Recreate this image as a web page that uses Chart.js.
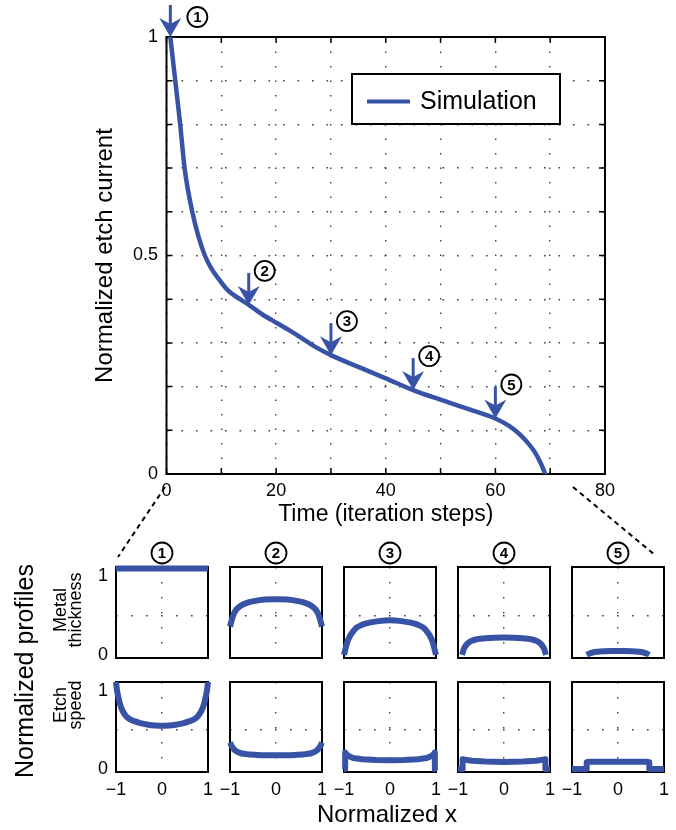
<!DOCTYPE html>
<html><head><meta charset="utf-8">
<script src="https://cdn.jsdelivr.net/npm/chart.js@4.4.1/dist/chart.umd.min.js"></script>
<style>
html,body{margin:0;padding:0;background:#fff;}
#wrap{position:relative;width:676px;height:830px;overflow:hidden;background:#fff;}
canvas{position:absolute;}
</style></head><body>
<div id="wrap"><canvas id="main" style="left:0;top:0"></canvas></div>
<script>
// ================= DATA =================
const seriesName = 'Simulation';
const timeSteps   = [0.7, 1.6, 2.5, 3.3, 4.7, 5.8, 7.0, 8.2, 9.3, 11.2, 13.4, 15, 17.5, 20.2, 22.5, 24.4, 27, 30, 35, 40, 45, 50, 55, 60, 62.5, 64.5, 66, 67.2, 68.3, 69.1];
const etchCurrent = [1.0, 0.9, 0.8, 0.7, 0.6, 0.545, 0.5, 0.47, 0.45, 0.42, 0.4, 0.387, 0.365, 0.345, 0.328, 0.313, 0.292, 0.272, 0.245, 0.219, 0.192, 0.17, 0.149, 0.127, 0.11, 0.09, 0.07, 0.05, 0.024, 0];
const markerSteps = [0.7, 15, 30, 45, 60];
const markerLabels = ['1', '2', '3', '4', '5'];
const timeTickLabels = ['0', '20', '40', '60', '80'];
const currentTickLabels = ['0', '0.5', '1'];
const profileXTicks = [-1, 0, 1];
const profileXTickLabels = ['\u22121', '0', '1'];
const profileYTicks = [0, 0.5, 1];
const profileYTickLabels = ['0', '', '1'];

// Metal thickness profiles (normalized x vs thickness)
const thickX1 = [-1, 0, 1];
const thickY1 = [1.1, 1.1, 1.1];
const thickX2 = [-1, -0.96, -0.92, -0.86, -0.76, -0.62, -0.48, -0.25, 0, 0.25, 0.48, 0.62, 0.76, 0.86, 0.92, 0.96, 1];
const thickY2 = [0.36, 0.45, 0.52, 0.58, 0.63, 0.665, 0.685, 0.705, 0.71, 0.705, 0.685, 0.665, 0.63, 0.58, 0.52, 0.45, 0.36];
const thickX3 = [-1, -0.97, -0.93, -0.87, -0.8, -0.72, -0.6, -0.45, -0.25, 0, 0.25, 0.45, 0.6, 0.72, 0.8, 0.87, 0.93, 0.97, 1];
const thickY3 = [0, 0.07, 0.16, 0.24, 0.3, 0.35, 0.385, 0.41, 0.43, 0.44, 0.43, 0.41, 0.385, 0.35, 0.3, 0.24, 0.16, 0.07, 0];
const thickX4 = [-0.91, -0.88, -0.84, -0.78, -0.7, -0.58, -0.4, -0.2, 0, 0.2, 0.4, 0.58, 0.7, 0.78, 0.84, 0.88, 0.91];
const thickY4 = [0, 0.065, 0.11, 0.15, 0.18, 0.2, 0.213, 0.219, 0.22, 0.219, 0.213, 0.2, 0.18, 0.15, 0.11, 0.065, 0];
const thickX5 = [-0.68, -0.62, -0.55, -0.45, -0.3, -0.15, 0, 0.15, 0.3, 0.45, 0.55, 0.62, 0.68];
const thickY5 = [0, 0.018, 0.03, 0.039, 0.046, 0.049, 0.05, 0.049, 0.046, 0.039, 0.03, 0.018, 0];

// Etch speed profiles
const etchX1 = [-1, -0.98, -0.95, -0.92, -0.88, -0.84, -0.78, -0.7, -0.6, -0.47, -0.3, -0.15, 0, 0.15, 0.3, 0.47, 0.6, 0.7, 0.78, 0.84, 0.88, 0.92, 0.95, 0.98, 1];
const etchY1 = [1.12, 1.02, 0.93, 0.85, 0.78, 0.73, 0.68, 0.64, 0.615, 0.59, 0.57, 0.56, 0.555, 0.56, 0.57, 0.59, 0.615, 0.64, 0.68, 0.73, 0.78, 0.85, 0.93, 1.02, 1.12];
const etchX2 = [-1, -0.95, -0.9, -0.8, -0.65, -0.4, -0.2, 0, 0.2, 0.4, 0.65, 0.8, 0.9, 0.95, 1];
const etchY2 = [0.34, 0.28, 0.245, 0.21, 0.19, 0.18, 0.176, 0.175, 0.176, 0.18, 0.19, 0.21, 0.245, 0.28, 0.34];
const etchX3 = [-1, -0.975, -0.975, -0.95, -0.9, -0.8, -0.6, -0.3, 0, 0.3, 0.6, 0.8, 0.9, 0.95, 0.975, 0.975, 1];
const etchY3 = [0, 0, 0.21, 0.19, 0.165, 0.14, 0.125, 0.115, 0.11, 0.115, 0.125, 0.14, 0.165, 0.19, 0.21, 0, 0];
const etchX4 = [-1, -0.9, -0.9, -0.85, -0.7, -0.4, 0, 0.4, 0.7, 0.85, 0.9, 0.9, 1];
const etchY4 = [0, 0, 0.125, 0.12, 0.105, 0.095, 0.09, 0.095, 0.105, 0.12, 0.125, 0, 0];
const etchX5 = [-1, -0.68, -0.68, -0.62, 0, 0.62, 0.68, 0.68, 1];
const etchY5 = [0, 0, 0.085, 0.092, 0.092, 0.092, 0.085, 0, 0];

// ================= STYLE / LAYOUT =================
const BLUE = '#3853a6';
const GRID = 'rgba(30,30,30,0.85)';
const FONT = '"Liberation Sans", Arial, Helvetica, sans-serif';
Chart.defaults.font.family = FONT;
Chart.defaults.color = '#000';

const colLefts = [116, 230, 344, 458, 572];
const rowTops = [567, 682];
const rowHeights = [91, 90];
const boxW = 92;

function drawArrow(ctx, x, y, color) {
  ctx.save();
  ctx.setLineDash([]);
  ctx.strokeStyle = color; ctx.fillStyle = color; ctx.lineWidth = 3;
  ctx.beginPath(); ctx.moveTo(x, y - 32); ctx.lineTo(x, y - 10); ctx.stroke();
  ctx.beginPath();
  ctx.moveTo(x, y); ctx.lineTo(x - 11, y - 19); ctx.lineTo(x, y - 13); ctx.lineTo(x + 11, y - 19);
  ctx.closePath(); ctx.fill();
  ctx.restore();
}
function drawCircled(ctx, cx, cy, txt, r, fs) {
  ctx.save();
  ctx.setLineDash([]);
  ctx.beginPath(); ctx.arc(cx, cy, r, 0, Math.PI * 2);
  ctx.fillStyle = '#fff'; ctx.fill();
  ctx.lineWidth = 1.8; ctx.strokeStyle = '#000'; ctx.stroke();
  ctx.fillStyle = '#000'; ctx.font = 'bold ' + fs + 'px ' + FONT;
  ctx.textAlign = 'center'; ctx.textBaseline = 'middle';
  ctx.fillText(txt, cx, cy + 1);
  ctx.restore();
}
function drawRotated(ctx, text, x, y, fs) {
  ctx.save();
  ctx.translate(x, y); ctx.rotate(-Math.PI / 2);
  ctx.font = fs + 'px ' + FONT; ctx.fillStyle = '#000';
  ctx.textAlign = 'center'; ctx.textBaseline = 'alphabetic';
  ctx.fillText(text, 0, 0);
  ctx.restore();
}

const framePlugin = {
  id: 'frame',
  beforeDatasetsDraw(chart, args, opts) {
    const {ctx, chartArea: a} = chart;
    ctx.save();
    ctx.setLineDash([]);
    ctx.globalAlpha = 1;
    if (opts.tickLen) {
      const xs = chart.scales.x, ys = chart.scales.y, L = opts.tickLen;
      ctx.strokeStyle = '#000'; ctx.lineWidth = 1.5;
      ctx.beginPath();
      xs.ticks.forEach(t => {
        const px = xs.getPixelForValue(t.value);
        ctx.moveTo(px, a.bottom); ctx.lineTo(px, a.bottom - L);
        ctx.moveTo(px, a.top); ctx.lineTo(px, a.top + L);
      });
      ys.ticks.forEach(t => {
        const py = ys.getPixelForValue(t.value);
        ctx.moveTo(a.left, py); ctx.lineTo(a.left + L, py);
        ctx.moveTo(a.right, py); ctx.lineTo(a.right - L, py);
      });
      ctx.stroke();
    }
    ctx.strokeStyle = '#000'; ctx.lineWidth = opts.width || 2;
    ctx.beginPath();
    ctx.rect(a.left, a.top, a.right - a.left, a.bottom - a.top);
    ctx.stroke();
    ctx.restore();
  }
};

const mainDecor = {
  id: 'mainDecor',
  afterDatasetsDraw(chart) {
    const {ctx, chartArea: a, scales: {x, y}} = chart;
    markerSteps.forEach((t, k) => {
      const i = timeSteps.indexOf(t);
      const px = x.getPixelForValue(timeSteps[i]);
      const py = y.getPixelForValue(etchCurrent[i]);
      drawArrow(ctx, px, py, BLUE);
      const off = k === 0 ? [27, -20] : [16, -34];
      drawCircled(ctx, px + off[0], py + off[1], markerLabels[k], 10, 15);
    });
    const ds = chart.data.datasets[0];
    const lx = a.left + 185.5, ly = a.top + 37, lw = 208, lh = 50;
    ctx.save();
    ctx.setLineDash([]);
    ctx.fillStyle = '#fff'; ctx.fillRect(lx, ly, lw, lh);
    ctx.lineWidth = 2; ctx.strokeStyle = '#000'; ctx.strokeRect(lx, ly, lw, lh);
    ctx.strokeStyle = ds.borderColor; ctx.lineWidth = 4;
    ctx.beginPath(); ctx.moveTo(lx + 15, ly + 27.5); ctx.lineTo(lx + 58, ly + 27.5); ctx.stroke();
    ctx.fillStyle = '#000'; ctx.font = '25px ' + FONT; ctx.textAlign = 'left'; ctx.textBaseline = 'alphabetic';
    ctx.fillText(ds.label, lx + 68, ly + 35);
    ctx.restore();
  },
  afterDraw(chart) {
    const {ctx, chartArea: a} = chart;
    ctx.save();
    // frames of the profile panels (underlay; the panels draw their own frame on top)
    ctx.setLineDash([]);
    ctx.strokeStyle = '#000'; ctx.lineWidth = 2;
    rowTops.forEach((t, r) => colLefts.forEach(l => { ctx.strokeRect(l, t, boxW, rowHeights[r]); }));
    // dashed zoom lines
    ctx.setLineDash([5, 4]);
    ctx.beginPath();
    ctx.moveTo(a.left - 1.5, a.bottom + 13); ctx.lineTo(colLefts[0] + 2, rowTops[0] - 10);
    ctx.moveTo(a.right - 32, a.bottom + 13); ctx.lineTo(colLefts[4] + 83, rowTops[0] - 12);
    ctx.stroke();
    ctx.setLineDash([]);
    ctx.restore();
    colLefts.forEach((l, c) => drawCircled(ctx, l + boxW / 2, rowTops[0] - 14, markerLabels[c], 10.5, 15));
    drawRotated(ctx, 'Normalized profiles', 33, 671, 25);
    drawRotated(ctx, 'Metal', 66, 610, 18);
    drawRotated(ctx, 'thickness', 81, 610, 18);
    drawRotated(ctx, 'Etch', 66, 705, 18);
    drawRotated(ctx, 'speed', 81, 705, 18);
    ctx.save();
    ctx.font = '24px ' + FONT; ctx.fillStyle = '#000'; ctx.textAlign = 'center'; ctx.textBaseline = 'alphabetic';
    ctx.fillText('Normalized x', 387, 822);
    ctx.restore();
  }
};

// ================= MAIN CHART =================
const mainCanvas = document.getElementById('main');
mainCanvas.width = 676; mainCanvas.height = 830;
new Chart(mainCanvas, {
  type: 'line',
  data: {
    datasets: [{
      label: seriesName,
      data: timeSteps.map((t, i) => ({x: t, y: etchCurrent[i]})),
      borderColor: BLUE, backgroundColor: BLUE, borderWidth: 4.5,
      pointRadius: 0, cubicInterpolationMode: 'monotone', fill: false,
      borderCapStyle: 'round', borderJoinStyle: 'round'
    }]
  },
  options: {
    responsive: false, animation: false, events: [],
    layout: {padding: {left: 91, top: 37, right: 71, bottom: 302}},
    plugins: {legend: {display: false}, tooltip: {enabled: false}, frame: {width: 2, tickLen: 6}},
    scales: {
      x: {
        type: 'linear', min: 0, max: 80,
        ticks: {stepSize: 10, autoSkip: false, maxRotation: 0, padding: 6, font: {size: 18},
          callback: v => timeTickLabels.includes(String(v)) ? String(v) : ''},
        grid: {color: GRID, lineWidth: 1.4, drawTicks: false},
        border: {display: false, dash: [1.6, 12.9]},
        title: {display: true, text: 'Time (iteration steps)', font: {size: 23}, padding: {top: 0, bottom: 0}},
        afterFit: s => { s.height = 54; }
      },
      y: {
        type: 'linear', min: 0, max: 1,
        ticks: {stepSize: 0.1, autoSkip: false, padding: 8.5, font: {size: 18},
          callback: v => { const s = String(+(+v).toFixed(2)); return currentTickLabels.includes(s) ? s : ''; }},
        grid: {color: GRID, lineWidth: 1.4, drawTicks: false},
        border: {display: false, dash: [1.6, 12.9]},
        title: {display: true, text: 'Normalized etch current', font: {size: 24}, padding: {top: 0, bottom: 0}},
        afterFit: s => { s.width = 75.5; }
      }
    }
  },
  plugins: [framePlugin, mainDecor]
});

// ================= PROFILE CHARTS =================
function profileChart(col, row, xs, ys, smooth) {
  const wrap = document.getElementById('wrap');
  const canvas = document.createElement('canvas');
  wrap.appendChild(canvas);
  const first = col === 0, bottom = row === 1;
  const yW = first ? 40 : 0, xH = bottom ? 30 : 0;
  const padL = 24, padT = 24, padR = 24, padB = bottom ? 6 : 24;
  const boxH = rowHeights[row];
  canvas.width = padL + yW + boxW + padR;
  canvas.height = padT + boxH + xH + padB;
  canvas.style.left = (colLefts[col] - yW - padL) + 'px';
  canvas.style.top = (rowTops[row] - padT) + 'px';
  new Chart(canvas, {
    type: 'line',
    data: {datasets: [{
      data: xs.map((x, i) => ({x: x, y: ys[i]})),
      borderColor: BLUE, borderWidth: 6, pointRadius: 0, fill: false,
      tension: 0, cubicInterpolationMode: smooth ? 'monotone' : 'default',
      borderJoinStyle: 'round', clip: 3
    }]},
    options: {
      responsive: false, animation: false, events: [],
      layout: {padding: {left: padL, top: padT, right: padR, bottom: padB}},
      plugins: {legend: {display: false}, tooltip: {enabled: false}, frame: {width: 2, tickLen: 0}},
      scales: {
        x: {
          type: 'linear', min: -1, max: 1,
          afterBuildTicks: s => { s.ticks = profileXTicks.map(v => ({value: v})); },
          ticks: {display: bottom, autoSkip: false, maxRotation: 0, padding: 7, font: {size: 18},
            callback: v => profileXTickLabels[profileXTicks.indexOf(v)]},
          grid: {color: c => (c.tick && c.tick.value === 0) ? GRID : 'rgba(0,0,0,0)', lineWidth: 1.4, drawTicks: false},
          border: {display: false, dash: [1.6, 13.4]},
          afterFit: s => { s.height = xH; }
        },
        y: {
          type: 'linear', min: -0.04, max: 1.12,
          afterBuildTicks: s => { s.ticks = profileYTicks.map(v => ({value: v})); },
          ticks: {display: first, autoSkip: false, padding: 8, font: {size: 18},
            callback: v => profileYTickLabels[profileYTicks.indexOf(v)]},
          grid: {color: c => (c.tick && c.tick.value === 0.5) ? GRID : 'rgba(0,0,0,0)', lineWidth: 1.4, drawTicks: false},
          border: {display: false, dash: [1.6, 13.4]},
          afterFit: s => { s.width = yW; }
        }
      }
    },
    plugins: [framePlugin]
  });
}

const thickXs = [thickX1, thickX2, thickX3, thickX4, thickX5];
const thickYs = [thickY1, thickY2, thickY3, thickY4, thickY5];
const etchXs = [etchX1, etchX2, etchX3, etchX4, etchX5];
const etchYs = [etchY1, etchY2, etchY3, etchY4, etchY5];
for (let c = 0; c < 5; c++) {
  profileChart(c, 0, thickXs[c], thickYs[c], true);
  profileChart(c, 1, etchXs[c], etchYs[c], c < 2);
}
</script>
</body></html>
